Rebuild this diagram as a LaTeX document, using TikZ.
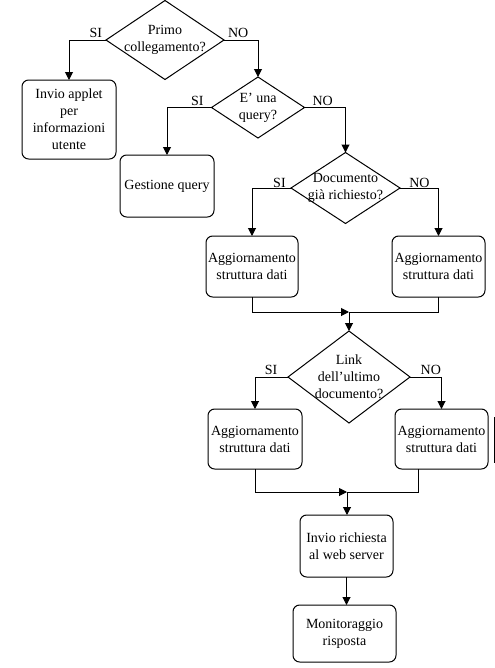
\documentclass[tikz,border=0pt]{standalone}
\usepackage{fontspec}
\setmainfont{Liberation Serif}
\usetikzlibrary{calc}
\usetikzlibrary{arrows.meta}
\usetikzlibrary{shapes.geometric}

\tikzset{
  dims/.style 2 args={minimum width=#1*0.75pt,minimum height=#2*0.75pt},
  box/.style={draw,rounded corners=5pt,align=center,inner sep=0pt,outer sep=0pt},
  dia/.style={draw,diamond,inner sep=0pt,outer sep=0pt},
  flow/.style={-{Triangle[width=6pt,length=6pt]}},
  lbl/.style={inner sep=0pt,outer sep=0pt},
}

\begin{document}
\begin{tikzpicture}[x=0.75pt,y=-0.75pt,line width=0.75pt,font=\fontsize{10.5}{12.75}\selectfont]
  % Boundary
  \path[use as bounding box] (0,0) rectangle (495,668);
  % Decisions
  \node[dia,dims={118}{79},label={[name=d1t,align=center]center:Primo\\collegamento?}] (d1) at (165,40) {};
  \node[dia,dims={93}{61},label={[name=d2t,align=center]center:E' una\\query?}] (d2) at (258,107.5) {};
  \node[dia,dims={109}{71},label={[name=d3t,align=center]center:Documento\\già richiesto?}] (d3) at (345.5,188) {};
  \node[dia,dims={122}{92},label={[name=d4t,align=center]center:Link\\dell'ultimo\\documento?}] (d4) at (349,377) {};
  % Actions
  \node[box,dims={94}{79}] (b1) at (69,119.5) {Invio applet\\per\\informazioni\\utente};
  \node[box,dims={94}{62}] (b2) at (167,186) {Gestione query};
  \node[box,dims={92}{61}] (b3) at (252,266.5) {Aggiornamento\\struttura dati};
  \node[box,dims={93}{61}] (b4) at (438.5,266.5) {Aggiornamento\\struttura dati};
  \node[box,dims={94}{60}] (b5) at (255,439) {Aggiornamento\\struttura dati};
  \node[box,dims={93}{60}] (b6) at (441.5,439) {Aggiornamento\\struttura dati};
  \node[box,dims={93}{62}] (b7) at (346.5,546) {Invio richiesta\\al web server};
  \node[box,dims={103}{57}] (b8) at (344.5,633.5) {Monitoraggio\\risposta};
  % Branches
  \draw[flow] (d1.west) node[lbl,anchor=south east,xshift=-3pt,yshift=1.5pt] (si1) {SI} -| (b1.north);
  \draw[flow] (d1.east) node[lbl,anchor=south west,xshift=3pt,yshift=1.5pt] (no1) {NO} -| (d2.north);
  \draw[flow] (d2.west) node[lbl,anchor=south east,xshift=-6pt,yshift=1.5pt] (si2) {SI} -| (b2.north);
  \draw[flow] (d2.east) node[lbl,anchor=south west,xshift=6pt,yshift=1.5pt] (no2) {NO} -| (d3.north);
  \draw[flow] (d3.west) node[lbl,anchor=south east,xshift=-4pt,yshift=0pt] (si3) {SI} -| (b3.north);
  \draw[flow] (d3.east) node[lbl,anchor=south west,xshift=7pt,yshift=0pt] (no3) {NO} -| (b4.north);
  \draw[flow] (d4.west) node[lbl,anchor=south east,xshift=-8pt,yshift=2pt] (si4) {SI} -| (b5.north);
  \draw[flow] (d4.east) node[lbl,anchor=south west,xshift=8pt,yshift=2pt] (no4) {NO} -| (b6.north);
  % Joins
  \coordinate (m1) at (349,312);
  \draw[flow] (b3.south) |- (m1);
  \draw (b4.south) |- (m1);
  \draw[flow] (m1) -- (d4.north);
  \coordinate (m2) at (347,492);
  \draw[flow] (b5.south) |- (m2);
  \draw ($(b6.south)+(-23.5,0)$) |- (m2);
  \draw[flow] (m2) -- (m2 |- b7.north);
  \draw[flow] (b7.south) -- (b7.south |- b8.north);
  % Edge mark
  \draw (494,417) -- (494,463);
\end{tikzpicture}
\end{document}
